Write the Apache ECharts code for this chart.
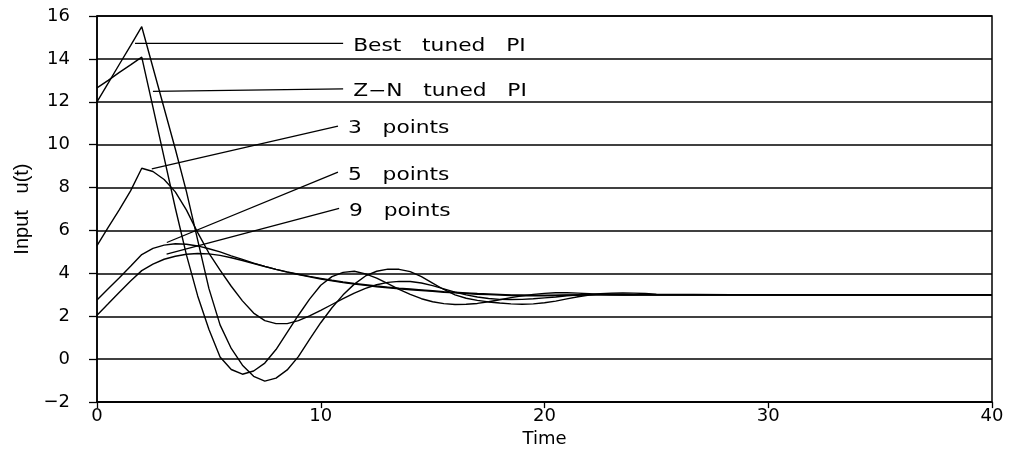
<!DOCTYPE html>
<html><head><meta charset="utf-8">
<script src="https://cdn.jsdelivr.net/npm/echarts@6/dist/echarts.min.js"></script>
<style>html,body{margin:0;padding:0;background:#fff}#c{width:1009px;height:453px}</style>
</head><body><div id="c"></div><script>
const time = [0,0.5,1,1.5,2,2.5,3,3.5,4,4.5,5,5.5,6,6.5,7,7.5,8,8.5,9,9.5,10,10.5,11,11.5,12,12.5,13,13.5,14,14.5,15,15.5,16,16.5,17,17.5,18,18.5,19,19.5,20,20.5,21,21.5,22,22.5,23,23.5,24,24.5,25,30,35,40];
const bestTunedPI = [12.0,12.87,13.75,14.62,15.5,13.6,11.7,9.8,7.8,5.55,3.3,1.6,0.5,-0.28,-0.8,-1.02,-0.88,-0.5,0.12,0.92,1.7,2.4,3.0,3.5,3.88,4.1,4.2,4.19,4.08,3.85,3.55,3.25,3.0,2.84,2.74,2.67,2.62,2.58,2.56,2.58,2.63,2.71,2.81,2.91,2.99,3.05,3.08,3.09,3.08,3.06,3.03,3.0,3.0,3.0];
const znTunedPI = [12.65,13.0,13.37,13.72,14.08,11.75,9.4,7.05,4.85,2.95,1.4,0.1,-0.48,-0.7,-0.55,-0.18,0.45,1.25,2.05,2.8,3.45,3.85,4.05,4.1,3.98,3.78,3.52,3.26,3.02,2.82,2.68,2.59,2.55,2.56,2.6,2.68,2.77,2.87,2.95,3.02,3.07,3.1,3.1,3.08,3.05,3.02,3.0,2.99,2.99,3.0,3.0,3.0,3.0,3.0];
const points3 = [5.3,6.15,6.97,7.85,8.9,8.75,8.38,7.8,6.95,5.9,4.95,4.15,3.4,2.72,2.15,1.8,1.66,1.66,1.8,2.02,2.28,2.55,2.82,3.08,3.3,3.47,3.58,3.63,3.62,3.55,3.43,3.28,3.13,3.0,2.9,2.83,2.79,2.78,2.79,2.82,2.86,2.9,2.95,2.99,3.02,3.04,3.04,3.03,3.02,3.01,3.0,3.0,3.0,3.0];
const points5 = [2.76,3.28,3.8,4.33,4.88,5.17,5.32,5.38,5.36,5.28,5.15,5.0,4.82,4.65,4.48,4.33,4.19,4.06,3.95,3.84,3.74,3.65,3.57,3.5,3.44,3.38,3.33,3.28,3.24,3.2,3.16,3.12,3.09,3.06,3.03,3.01,2.99,2.97,2.96,2.96,2.96,2.97,2.98,2.99,3.0,3.0,3.0,3.0,3.0,3.0,3.0,3.0,3.0,3.0];
const points9 = [2.05,2.58,3.12,3.65,4.13,4.43,4.66,4.8,4.89,4.93,4.91,4.84,4.73,4.6,4.46,4.32,4.19,4.07,3.96,3.86,3.77,3.68,3.6,3.53,3.47,3.41,3.36,3.31,3.27,3.23,3.19,3.15,3.12,3.09,3.06,3.04,3.02,3.0,2.99,2.98,2.98,2.98,2.99,2.99,3.0,3.0,3.0,3.0,3.0,3.0,3.0,3.0,3.0,3.0];

const labelTexts = ['Best   tuned   PI', 'Z\u2212N   tuned   PI', '3   points', '5   points', '9   points'];
const leaderStart = [[1.7,14.72],[2.5,12.49],[2.45,8.87],[3.12,5.44],[3.11,4.90]];
const leaderEnd = [[11.0,14.72],[11.0,12.6],[10.77,10.87],[10.77,8.72],[10.82,7.03]];
const xAxisTitle = 'Time';
const yAxisTitle = 'Input   u(t)';

const chart = echarts.init(document.getElementById('c'), null, {renderer:'canvas'});
const lineStyle = {color:'#000', width:1.4};
const curves = [bestTunedPI, znTunedPI, points3, points5, points9];
const series = [];
curves.forEach(arr => {
  series.push({type:'line', data: time.map((t,i)=>[t, arr[i]]), symbol:'none', lineStyle, silent:true});
});
leaderStart.forEach((s,i) => {
  series.push({type:'line', data:[s, leaderEnd[i]], symbol:'none', lineStyle:{color:'#000', width:1.3}, silent:true});
});
const font = '"DejaVu Sans", sans-serif';
chart.setOption({
  animation:false,
  backgroundColor:'#fff',
  grid:{left:97, right:17, top:16, bottom:48, show:true, borderColor:'#000', borderWidth:1.5, backgroundColor:'transparent'},
  xAxis:{type:'value', min:0, max:40, interval:10,
    name:xAxisTitle, nameLocation:'middle', nameGap:23,
    nameTextStyle:{color:'#000', fontFamily:font, fontSize:18},
    axisLine:{show:true, onZero:false, lineStyle:{color:'#000', width:1.5}},
    axisTick:{show:true, inside:false, length:6, lineStyle:{color:'#000', width:1.3}},
    axisLabel:{color:'#000', fontFamily:font, fontSize:18, margin:5},
    splitLine:{show:false}},
  yAxis:{type:'value', min:-2, max:16, interval:2,
    name:yAxisTitle, nameLocation:'middle', nameGap:64, nameRotate:90,
    nameTextStyle:{color:'#000', fontFamily:'"Liberation Sans", sans-serif', fontSize:20},
    axisLine:{show:true, lineStyle:{color:'#000', width:1.5}},
    axisTick:{show:true, inside:false, length:8, lineStyle:{color:'#000', width:1.3}},
    axisLabel:{color:'#000', fontFamily:font, fontSize:18, margin:27,
      formatter: v => String(v).replace('-', '\u2212')},
    splitLine:{show:true, lineStyle:{color:'#000', width:1.5}}},
  series
});
const graphics = leaderEnd.map((e,i) => {
  const p = chart.convertToPixel({gridIndex:0}, e);
  return {type:'text', x:p[0]+10, y:p[1]+3, scaleX:1.28, silent:true,
    style:{text:labelTexts[i], fill:'#000', font:'17px "DejaVu Sans", sans-serif',
      verticalAlign:'middle', textVerticalAlign:'middle', align:'left'}};
});
chart.setOption({graphic: graphics});
</script></body></html>
